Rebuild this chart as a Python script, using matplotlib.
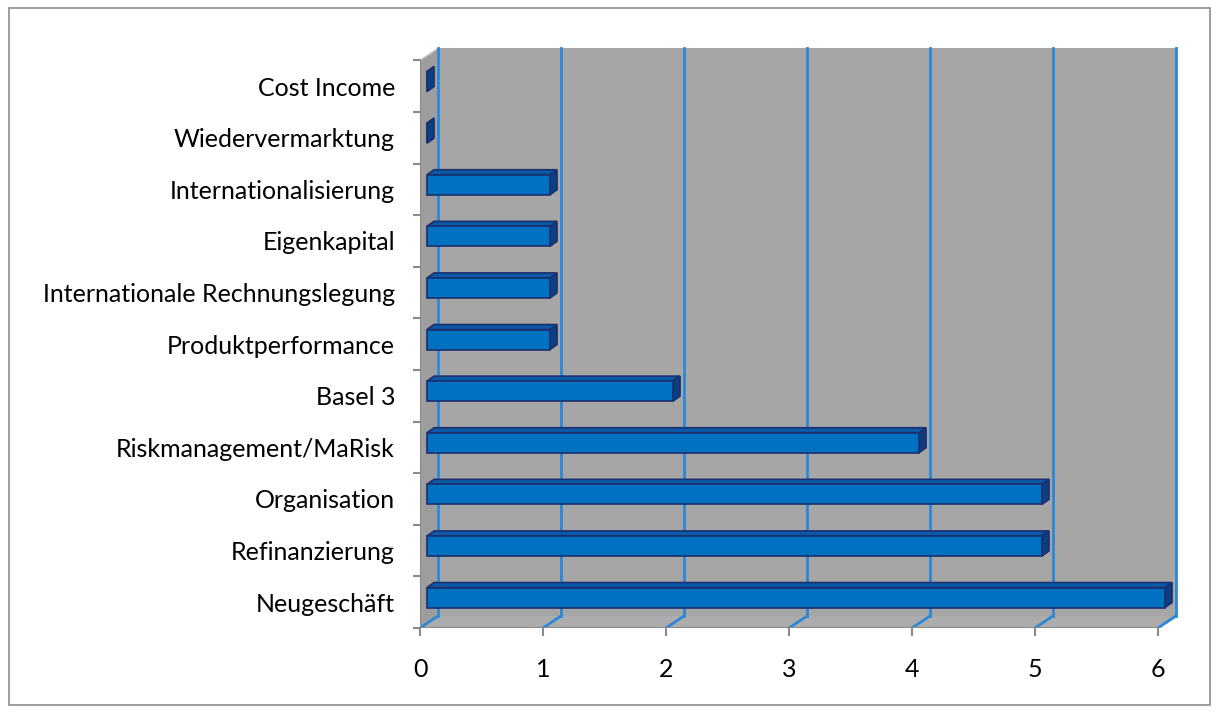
import matplotlib
matplotlib.use("Agg")
import matplotlib.pyplot as plt
from matplotlib.patches import Polygon, Rectangle

categories = ["Neugeschäft", "Refinanzierung", "Organisation", "Riskmanagement/MaRisk",
              "Basel 3", "Produktperformance", "Internationale Rechnungslegung",
              "Eigenkapital", "Internationalisierung", "Wiedervermarktung", "Cost Income"]
values = [6, 5, 5, 4, 2, 1, 1, 1, 1, 0, 0]
xticks = [0, 1, 2, 3, 4, 5, 6]

plt.rcParams['font.family'] = ['Lato', 'DejaVu Sans']

# 3d look: wall depth and bar placement in data units
dx, dy = 0.146, 0.233
bx, by = 0.057, 0.09
ddx, ddy = 0.057, 0.097
half = 0.194
n = len(categories)
xmax = xticks[-1]

fig = plt.figure(figsize=(12.19, 7.13), dpi=100)
fig.patches.append(Rectangle((9 / 1219, 8 / 713), 1201 / 1219, 697 / 713, transform=fig.transFigure,
                             fill=False, edgecolor='#8c8c8c', linewidth=1.2))

ax = fig.add_axes([420 / 1219, 1 - 628 / 713, 770 / 1219, 598 / 713])
ax.set_xlim(0, 770 / 123)
ax.set_ylim(-0.5, -0.5 + 598 / 51.6)
for s in ax.spines.values():
    s.set_visible(False)
ax.patch.set_visible(False)

lo, hi = -0.5, n - 0.5
# walls
ax.add_patch(Polygon([(dx, lo + dy), (xmax + dx, lo + dy), (xmax + dx, hi + dy), (dx, hi + dy)],
                     facecolor='#a6a6a6', edgecolor='none', zorder=1))
ax.add_patch(Polygon([(0, lo), (dx, lo + dy), (dx, hi + dy), (0, hi)],
                     facecolor='#9d9d9d', edgecolor='#c8c8c8', linewidth=1, zorder=1))
ax.add_patch(Polygon([(0, lo), (xmax, lo), (xmax + dx, lo + dy), (dx, lo + dy)],
                     facecolor='#acacac', edgecolor='none', zorder=1))

# gridlines on back wall and floor
for t in xticks:
    ax.plot([t + dx, t + dx], [lo + dy, hi + dy], color='#2b88d8', lw=2, zorder=2)
    ax.plot([t, t + dx], [lo, lo + dy], color='#2b88d8', lw=2, zorder=2)

# front axis lines
ax.plot([0, xmax], [lo, lo], color='#8a8a8a', lw=1.5, zorder=3)
ax.plot([0, 0], [lo, hi], color='#8a8a8a', lw=1.5, zorder=3)

# bars
front_c, top_c, side_c, edge_c = '#0070c0', '#0a5aa8', '#0b3f80', '#1c2f6e'
for k, v in enumerate(values):
    b, t = k + by - half, k + by + half
    ax.add_patch(Polygon([(bx, t), (v + bx, t), (v + bx + ddx, t + ddy), (bx + ddx, t + ddy)],
                         facecolor=top_c, edgecolor=edge_c, linewidth=1.2, zorder=4))
    ax.add_patch(Polygon([(v + bx, b), (v + bx + ddx, b + ddy), (v + bx + ddx, t + ddy), (v + bx, t)],
                         facecolor=side_c, edgecolor=edge_c, linewidth=1.2, zorder=4))
    ax.add_patch(Polygon([(bx, b), (v + bx, b), (v + bx, t), (bx, t)],
                         facecolor=front_c, edgecolor=edge_c, linewidth=1.2, zorder=5))

ax.set_xticks(xticks)
ax.set_xticklabels([str(t) for t in xticks], fontsize=18)
ax.tick_params(axis='x', length=5.5, width=1.5, color='#8a8a8a', pad=16)
ax.set_yticks(range(n))
ax.set_yticklabels(categories, fontsize=18)
ax.set_yticks([k - 0.5 for k in range(n + 1)], minor=True)
ax.tick_params(axis='y', which='major', length=0, pad=18)
ax.tick_params(axis='y', which='minor', length=5, width=1.5, color='#8a8a8a')

fig.savefig("out.png", dpi=100)
